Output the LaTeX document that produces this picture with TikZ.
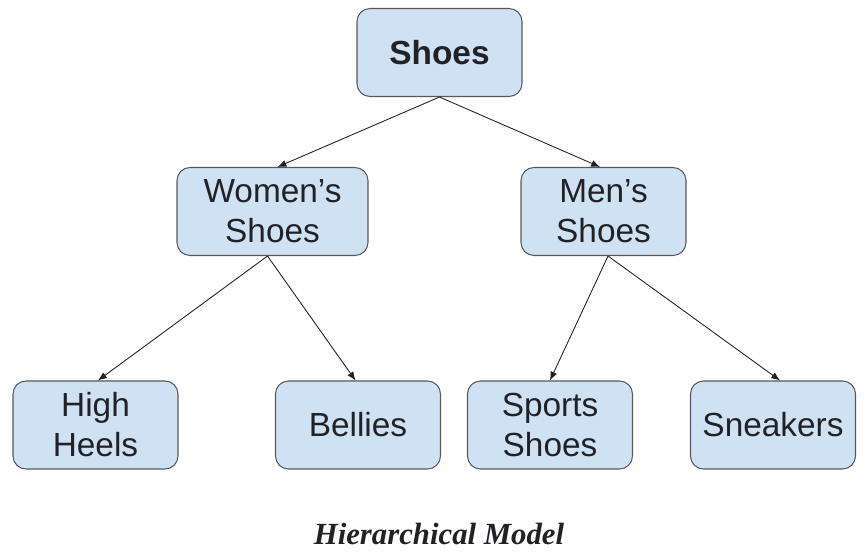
\documentclass[tikz,border=0pt]{standalone}
\usepackage{fontspec}
\setmainfont{Liberation Sans}
\newfontfamily\capfont{Liberation Serif}
\usepackage{tikz}
\usetikzlibrary{arrows.meta}
\definecolor{BoxBlue}{RGB}{207,226,243}
\definecolor{BoxEdge}{RGB}{88,88,92}
\definecolor{InkGray}{RGB}{34,34,38}

\begin{document}
\begin{tikzpicture}[
	box/.style={draw=BoxEdge, line width=0.6pt, fill=BoxBlue, rounded corners=0.26cm,
		minimum width=3.3cm, minimum height=1.76cm, align=center, text=InkGray,
		font=\fontsize{19}{22.8}\selectfont},
	link/.style={draw=InkGray, line width=0.5pt, -{Latex[length=5pt,width=4pt]}}
]
	\useasboundingbox (0,0) rectangle (17.3,11.06);
	\node[box, font=\fontsize{19}{22.8}\selectfont\bfseries] (shoes) at (8.79,10.01) {Shoes};
	\node[box, minimum width=3.82cm] (women) at (5.45,6.83) {Women's\\Shoes};
	\node[box] (men) at (12.07,6.83) {Men's\\Shoes};
	\node[box] (heels) at (1.91,2.56) {High\\Heels};
	\node[box] (bellies) at (7.16,2.56) {Bellies};
	\node[box] (sports) at (11.0,2.56) {Sports\\Shoes};
	\node[box] (sneakers) at (15.46,2.56) {Sneakers};
	\draw[link] (shoes.south) -- ([xshift=0.1cm]women.north);
	\draw[link] (shoes.south) -- ([xshift=-0.07cm]men.north);
	\draw[link] ([xshift=-0.1cm]women.south) -- ([xshift=0.05cm]heels.north);
	\draw[link] ([xshift=-0.1cm]women.south) -- ([xshift=-0.05cm]bellies.north);
	\draw[link] ([xshift=0.09cm]men.south) -- (sports.north);
	\draw[link] ([xshift=0.09cm]men.south) -- ([xshift=0.14cm]sneakers.north);
	\node[text=InkGray, font=\capfont\fontsize{17.5}{21}\selectfont\bfseries\itshape] (caption) at (8.78,0.38) {Hierarchical Model};
\end{tikzpicture}
\end{document}
